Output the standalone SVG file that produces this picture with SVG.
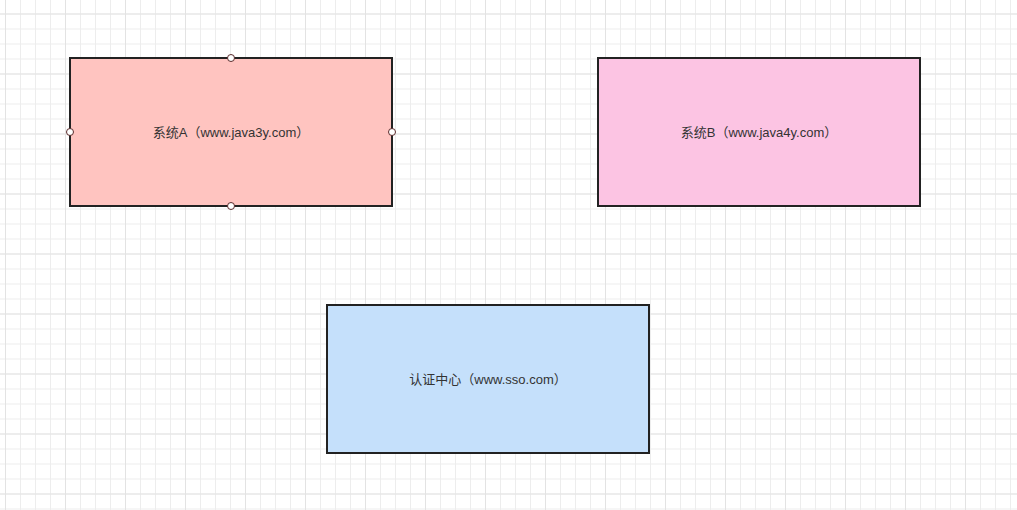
<svg xmlns="http://www.w3.org/2000/svg" width="1017" height="510" viewBox="0 0 1017 510">
<defs>
<pattern id="grid" x="5" y="13.5" width="15" height="15" patternUnits="userSpaceOnUse">
<path d="M0.5 0V15M0 0.5H15" fill="none" stroke="#ededed" stroke-width="1"/>
</pattern>
<pattern id="major" x="5" y="13.5" width="60" height="60" patternUnits="userSpaceOnUse">
<path d="M0.5 0V60M0 0.5H60" fill="none" stroke="#e3e3e3" stroke-width="1"/>
</pattern>
</defs>
<style>
.box{stroke:#222;stroke-width:2}
.lbl{font-family:"Liberation Sans","Noto Sans CJK SC",sans-serif;font-size:13px;fill:#333;text-anchor:middle;dominant-baseline:central}
.pt{fill:#fff;stroke:#5a2a2a;stroke-width:1}
</style>
<rect width="1017" height="510" fill="#fff"/>
<rect width="1017" height="510" fill="url(#grid)"/>
<rect width="1017" height="510" fill="url(#major)"/>
<g id="connectors"></g>
<g id="nodeA">
<rect class="box" x="70" y="58" width="322" height="148" fill="#ffc4c0"/>
<text class="lbl" x="231" y="132">系统A（www.java3y.com）</text>
<circle class="pt" cx="231" cy="58" r="3.5"/>
<circle class="pt" cx="70" cy="132" r="3.5"/>
<circle class="pt" cx="392" cy="132" r="3.5"/>
<circle class="pt" cx="231" cy="206" r="3.5"/>
</g>
<g id="nodeB">
<rect class="box" x="598" y="58" width="322" height="148" fill="#fcc4e3"/>
<text class="lbl" x="759" y="132">系统B（www.java4y.com）</text>
</g>
<g id="nodeC">
<rect class="box" x="327" y="305" width="322" height="148" fill="#c5e0fb"/>
<text class="lbl" x="488" y="379">认证中心（www.sso.com）</text>
</g>
</svg>
